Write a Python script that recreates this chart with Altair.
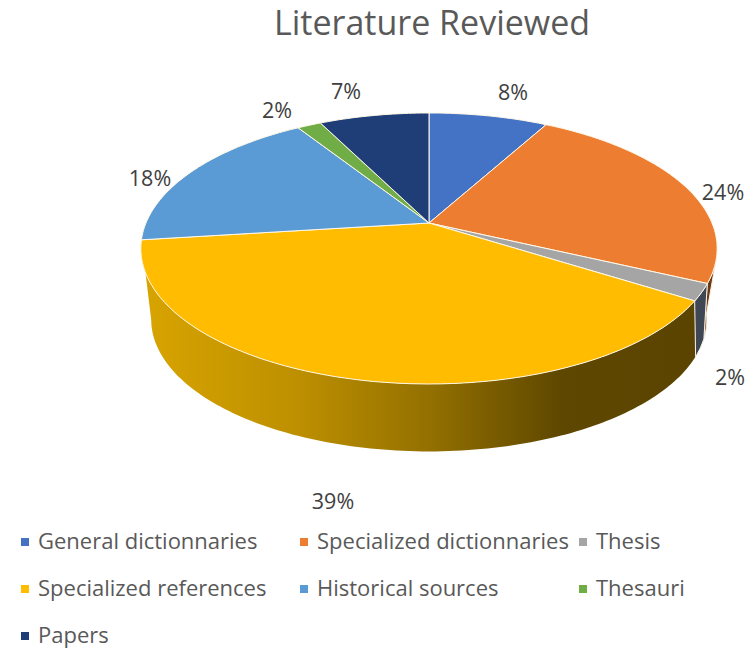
import math
import altair as alt

categories = ["General dictionnaries", "Specialized dictionnaries", "Thesis",
              "Specialized references", "Historical sources", "Thesauri", "Papers"]
shares = [8, 24, 2, 39, 18, 1.6, 7.4]
colors = ["#4472C4", "#ED7D31", "#A5A5A5", "#FFBC00", "#5B9BD5", "#70AD47", "#1F3E78"]
label_x = [513, 723, 730, 333, 150, 277, 346]
label_y = [94, 194, 379, 503, 180, 112, 93]
# Vega fills its legend grid in this index order, so this lists the categories
# that make the rows read in the reference's order.
legend_order = [0, 3, 5, 1, 4, 6, 2]


def top_point(deg):
    t = math.radians(deg)
    u, v = math.sin(t), math.cos(t)
    d = 1 + 0.188 * v
    return [round(429 + 283 * u / d, 1), round(223 - 130.7 * v / d, 1)]


def rim_point(deg):
    t = math.radians(deg)
    u, v = math.sin(t), math.cos(t)
    d = 1 + 0.3 * v
    return [round(429 + 265 * u / d, 1), round(280 - 120 * v / d, 1)]


def arc(fn, a, b):
    n = max(2, int(abs(b - a)) + 1)
    return [fn(a + (b - a) * i / n) for i in range(n + 1)]


def feature(ring, name):
    ring = ring + [ring[0]]
    return {"type": "Feature", "properties": {"name": name},
            "geometry": {"type": "Polygon", "coordinates": [ring]}}


angles = [0]
for s in shares:
    angles.append(angles[-1] + s * 3.6)

slices = [feature([[429, 223]] + arc(top_point, angles[i], angles[i + 1]), categories[i])
          for i in range(len(categories))]

yellow_wall = feature(arc(top_point, angles[3], angles[4]) + arc(rim_point, 252.5, angles[3]), "wall")
gray_wall = feature(arc(top_point, angles[2], angles[3]) + arc(rim_point, angles[3], angles[2]), "wall")
orange_wall = feature(arc(top_point, 105, angles[2]) + arc(rim_point, angles[2], 105), "wall")

projection = alt.Projection(type="identity", scale=1, translate=[-8, -16])

gold_side = alt.Gradient(
    gradient="linear", x1=0, x2=1, y1=0, y2=0,
    stops=[alt.GradientStop(offset=0, color="#D8A400"),
           alt.GradientStop(offset=0.28, color="#BE9000"),
           alt.GradientStop(offset=0.52, color="#937000"),
           alt.GradientStop(offset=0.76, color="#5E4700"),
           alt.GradientStop(offset=1, color="#5A4400")])


def wall(feat, **kw):
    return alt.Chart(alt.Data(values=[feat])).mark_geoshape(**kw).encode(
        opacity=alt.value(1)).properties(projection=projection)


walls = [
    wall(yellow_wall, color=gold_side, strokeWidth=0),
    wall(orange_wall, fill="#6B3A14", stroke="#FBEFE0", strokeWidth=1),
    wall(gray_wall, fill="#3F4654", stroke="#F5F1E5", strokeWidth=1),
]

top = alt.Chart(alt.Data(values=slices)).mark_geoshape(stroke="#FFF8E8", strokeWidth=1).encode(
    color=alt.Color("properties.name:N",
                    scale=alt.Scale(domain=[categories[i] for i in legend_order],
                                    range=[colors[i] for i in legend_order]),
                    legend=alt.Legend(
                        title=None, orient="none", legendX=6, legendY=515,
                        columns=3, columnPadding=3, rowPadding=25, gridAlign="all",
                        symbolType="square", symbolSize=64, symbolStrokeWidth=0,
                        labelFont="Open Sans", labelFontSize=22, labelColor="#595959",
                        labelLimit=300, labelOffset=2))
).properties(projection=projection)

labels = alt.Chart(alt.Data(values=[
    {"x": label_x[i], "y": label_y[i], "t": f"{round(shares[i])}%"} for i in range(len(shares))
])).mark_text(font="Open Sans", fontSize=21.5, color="#404040").encode(
    longitude="x:Q", latitude="y:Q", text="t:N"
).properties(projection=projection)

chart = alt.layer(*walls, top, labels).properties(
    width=738, height=636,
    padding={"left": 0, "right": 0, "top": 8, "bottom": 0},
    autosize=alt.AutoSizeParams(type="none"),
    title=alt.TitleParams("Literature Reviewed", font="Open Sans", fontSize=34,
                          fontWeight="normal", color="#595959", anchor="middle",
                          dx=55, dy=30),
).configure_view(stroke=None)

chart.save("out.html", embed_options={"renderer": "svg", "actions": False})
